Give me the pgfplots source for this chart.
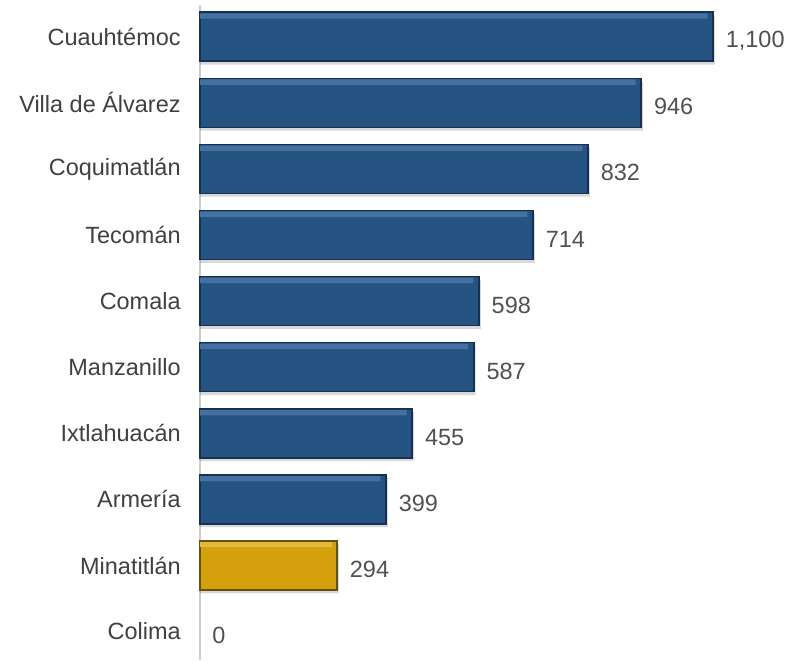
\documentclass[border=0pt]{standalone}
\usepackage{fontspec}
\setmainfont{Liberation Sans}
\usepackage{pgfplots}
\pgfplotsset{compat=1.18}

\definecolor{barblue}{RGB}{38,84,130}
\definecolor{bluelight}{RGB}{70,112,162}
\definecolor{bluedark}{RGB}{22,48,78}
\definecolor{bargold}{RGB}{212,160,12}
\definecolor{goldlight}{RGB}{228,184,60}
\definecolor{golddark}{RGB}{100,80,16}
\definecolor{labgray}{RGB}{64,64,64}
\definecolor{valgray}{RGB}{80,80,80}
\definecolor{axgray}{RGB}{205,205,205}

\begin{document}
\begin{tikzpicture}[font=\fontsize{17.6}{20}\selectfont]
\begin{axis}[
  name=ax,
  scale only axis,
  width=442.5pt, height=491.25pt,
  xbar, bar width=36.75pt, bar shift=0pt,
  xmin=0, xmax=1265,
  ymin=-0.43, ymax=9.48,
  axis x line=none,
  axis y line*=left,
  y axis line style={draw=axgray, line width=1pt, -},
  ytick={0,...,9},
  yticklabels={Colima, Minatitlán, Armería, Ixtlahuacán, Manzanillo, Comala,
    Tecomán, Coquimatlán, Villa de Álvarez, Cuauhtémoc},
  major tick length=0pt,
  yticklabel style={text=labgray, xshift=-11pt},
  /pgf/number format/assume math mode=true,
  /pgf/number format/1000 sep={,},
  nodes near coords style={text=valgray, inner sep=0pt, xshift=9pt, yshift=-3pt},
  clip=false,
]
% soft shadow
\addplot[fill=black, fill opacity=0.15, draw=none, bar shift=-2.5pt] coordinates {
  (1104,9) (950,8) (836,7) (718,6) (602,5) (591,4) (459,3) (403,2) (298,1)
};
% bars
\addplot[fill=barblue, draw=bluedark, line width=1.2pt, nodes near coords] coordinates {
  (1100,9) (946,8) (832,7) (714,6) (598,5) (587,4) (455,3) (399,2)
};
\addplot[fill=bargold, draw=golddark, line width=1.2pt, nodes near coords] coordinates {
  (294,1)
};
% top highlight
\addplot[fill=bluelight, draw=none, bar width=4pt, bar shift=15.5pt] coordinates {
  (1088,9) (934,8) (820,7) (702,6) (586,5) (575,4) (443,3) (387,2)
};
\addplot[fill=goldlight, draw=none, bar width=4pt, bar shift=15.5pt] coordinates {
  (282,1)
};
% zero value
\addplot[draw=none, fill=none, nodes near coords] coordinates {
  (0,0)
};
\end{axis}
\pgfresetboundingbox
\path ([xshift=-150pt,yshift=3.75pt]ax.north west) rectangle ([yshift=-0.75pt]ax.south east);
\end{tikzpicture}
\end{document}
